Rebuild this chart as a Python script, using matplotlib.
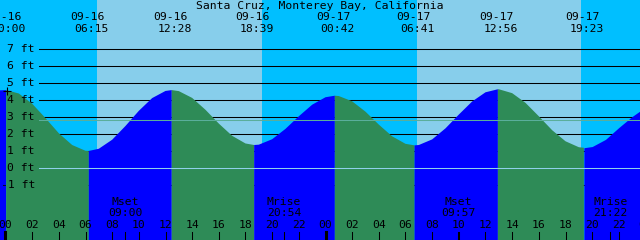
import matplotlib
matplotlib.use("Agg")
import matplotlib.pyplot as plt
import matplotlib.transforms as mtransforms
import numpy as np

# hours after 09-16 00:00, tide height in ft
tide_hours = [-0.5, 0.05, 1, 2, 3, 4, 5, 6, 6.25, 7, 8, 9, 10, 11, 12, 12.47,
              13, 14, 15, 16, 17, 18, 18.65, 19, 20, 21, 22, 23, 24, 24.7,
              25, 26, 27, 28, 29, 30, 30.68, 31, 32, 33, 34, 35, 36, 36.93,
              37, 38, 39, 40, 41, 42, 43, 43.38, 44, 45, 46, 47, 48]
tide_ft = [4.58, 4.60, 4.40, 3.80, 2.95, 2.06, 1.37, 1.03, 1.02, 1.15, 1.68, 2.49, 3.38, 4.13, 4.55, 4.60,
           4.54, 4.14, 3.44, 2.63, 1.91, 1.46, 1.37, 1.39, 1.71, 2.32, 3.06, 3.74, 4.18, 4.27,
           4.25, 3.94, 3.33, 2.57, 1.88, 1.44, 1.35, 1.37, 1.70, 2.35, 3.16, 3.93, 4.47, 4.65,
           4.65, 4.42, 3.85, 3.06, 2.24, 1.59, 1.24, 1.21, 1.28, 1.70, 2.40, 3.05, 3.60]

# high / low labels along the top
event_hours = [0.0, 6.25, 12.47, 18.65, 24.7, 30.68, 36.93, 43.38]
event_dates = ["09-16", "09-16", "09-16", "09-16", "09-17", "09-17", "09-17", "09-17"]
event_times = ["00:00", "06:15", "12:28", "18:39", "00:42", "06:41", "12:56", "19:23"]

# night spans (sunset -> sunrise)
night_spans = [(-1.0, 6.855), (19.23, 30.855), (43.18, 49.0)]

# moon events along the bottom
moon_hours = [9.0, 20.9, 33.95, 45.37]
moon_names = ["Mset", "Mrise", "Mset", "Mrise"]
moon_times = ["09:00", "20:54", "09:57", "21:22"]

grid_ft = [7, 6, 5, 4, 3, 2, 1, 0, -1]
msl_ft = 2.82
mark_hour, mark_ft = 0.11, 4.55
title = "Santa Cruz, Monterey Bay, California"

DAY = "#87CEEB"
NIGHT = "#00BFFF"
RISE = "#0000FF"
FALL = "#2E8B57"
MSL = "#5AAE9B"
DATUM = "#8FD0EA"

X0 = -0.4125          # hours at left edge
PX_H = 640 / 48.0      # pixels per hour
Y_ZERO = 168.3         # pixel row of 0 ft
PX_FT = 17.0


def fy(px):
    # pixel row from the top -> axes fraction
    return 1 - px / 240.0


fig = plt.figure(figsize=(6.4, 2.4), dpi=100)
fig.patch.set_facecolor(DAY)
ax = fig.add_axes([0, 0, 1, 1])
ax.set_axis_off()
ax.set_xlim(X0, X0 + 48)
ax.set_ylim((Y_ZERO - 240) / PX_FT, Y_ZERO / PX_FT)

for a, b in night_spans:
    ax.axvspan(a, b, color=NIGHT, lw=0, zorder=0)

xline0 = X0 + 39.3 / PX_H
for g in grid_ft:
    ax.plot([xline0, X0 + 48], [g, g], color="black", lw=0.75, zorder=1)

# water, coloured by rising / falling
t = np.array(tide_hours)
h = np.array(tide_ft)
rising = np.diff(h) > 0
start = 0
for i in range(1, len(rising) + 1):
    if i == len(rising) or rising[i] != rising[start]:
        seg = slice(start, i + 1)
        ax.fill_between(t[seg], h[seg], -10, color=RISE if rising[start] else FALL,
                        lw=0, zorder=2)
        start = i

ax.plot([xline0, X0 + 48], [msl_ft, msl_ft], color=MSL, lw=0.75, zorder=3)
ax.plot([xline0, X0 + 48], [0, 0], color=DATUM, lw=0.75, zorder=3)
ax.plot([mark_hour], [mark_ft], marker="+", color="black", ms=6, mew=0.8, zorder=4)

font = dict(family="DejaVu Sans Mono", fontsize=8.2, color="black")
for g in grid_ft:
    ax.text(X0 + 35 / PX_H, g, f"{g} ft", ha="right", va="center", zorder=5, **font)

tr = mtransforms.blended_transform_factory(ax.transData, ax.transAxes)
ax.text(0.5, fy(6), title, transform=ax.transAxes, ha="center", va="center",
        zorder=5, **font)
for x, d, s in zip(event_hours, event_dates, event_times):
    ax.text(x - 0.1, fy(16.5), d, transform=tr, ha="center", va="center", zorder=5, **font)
    ax.text(x + 0.2, fy(29), s, transform=tr, ha="center", va="center", zorder=5, **font)

for x, n, s in zip(moon_hours, moon_names, moon_times):
    ax.text(x, fy(202), n, transform=tr, ha="center", va="center", zorder=5, **font)
    ax.text(x, fy(213), s, transform=tr, ha="center", va="center", zorder=5, **font)
    ax.plot([x, x], [fy(231.5), 0], transform=tr, color="black", lw=0.75, zorder=5)

for hr in range(0, 50, 2):
    ax.text(hr, fy(225), f"{hr % 24:02d}", transform=tr, ha="center", va="center",
            zorder=5, **font)
    ax.plot([hr, hr], [fy(231.5), 0], transform=tr, color="black",
            lw=2.2 if hr % 24 == 0 else 0.75, zorder=5)

fig.savefig("out.png", dpi=100, facecolor=fig.get_facecolor())
